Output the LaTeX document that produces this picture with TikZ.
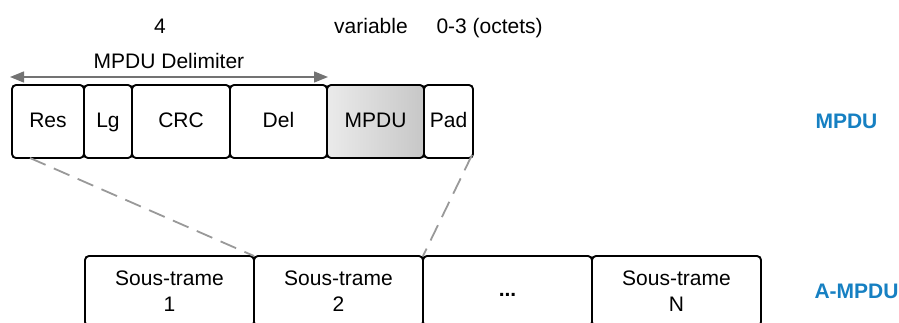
\documentclass[tikz,border=0pt]{standalone}
\usepackage{fontspec}
\setmainfont{Liberation Sans}
\usetikzlibrary{positioning,calc,arrows.meta}
\definecolor{bleutrame}{RGB}{22,128,194}
\tikzset{
  cadre/.style={draw, line width=1.9pt, rounded corners=4pt, outer sep=0pt, inner sep=0pt},
  champ/.style={cadre, minimum height=73pt, text height=15pt, text depth=4pt},
  sous/.style={cadre, minimum width=169pt, minimum height=70pt, align=center},
  pointille/.style={draw=black!40, line width=1.8pt, dash pattern=on 17pt off 9pt},
  etiquette/.style={text=bleutrame, font=\bfseries\fontsize{21}{26}\selectfont, anchor=west}
}
\begin{document}
\begin{tikzpicture}[x=1pt, y=-1pt, font=\fontsize{21}{26}\selectfont]
    \useasboundingbox (0,0) rectangle (899,322);
    \clip (0,0) rectangle (899,322);
    \node[anchor=base] (taille) at (160,33) {4};
    \node[anchor=base] (var) at (371,33) {variable};
    \node[anchor=base west] (octets) at (433,33) {0-3 (octets)};
    \node[champ, minimum width=72pt] (res) at (48,121.5) {Res};
    \node[champ, minimum width=48pt, right=0pt of res] (lg) {Lg};
    \node[champ, minimum width=98pt, right=0pt of lg] (crc) {CRC};
    \node[champ, minimum width=97pt, right=0pt of crc] (del) {Del};
    \node[champ, minimum width=97pt, right=0pt of del, left color=black!8, right color=black!22] (mpdu) {MPDU};
    \node[champ, minimum width=49pt, right=0pt of mpdu] (pad) {Pad};
    \draw[black!55, line width=1.4pt, {Triangle[length=14pt,width=11pt]}-{Triangle[length=14pt,width=11pt]}]
      ($(res.north west)+(-2,-8)$) -- ($(del.north east)+(1,-8)$)
      node[midway, above=4pt, black] (delim) {MPDU Delimiter};
    \node[sous, anchor=north west] (sub1) at (85,256) {Sous-trame\\1};
    \node[sous, right=0pt of sub1] (sub2) {Sous-trame\\2};
    \node[sous, right=0pt of sub2, text height=15pt, text depth=4pt] (sub3) {\textbf{...}};
    \node[sous, right=0pt of sub3] (subn) {Sous-trame\\N};
    \draw[pointille] ($(res.south west)+(18,0)$) -- (sub1.north east);
    \draw[pointille] ($(pad.south east)+(-1,-3)$) -- (sub2.north east);
    \node[etiquette] (lmpdu) at (812,121.5) {MPDU};
    \node[etiquette, right=50pt of subn] (lampdu) {A-MPDU};
  \end{tikzpicture}
\end{document}
